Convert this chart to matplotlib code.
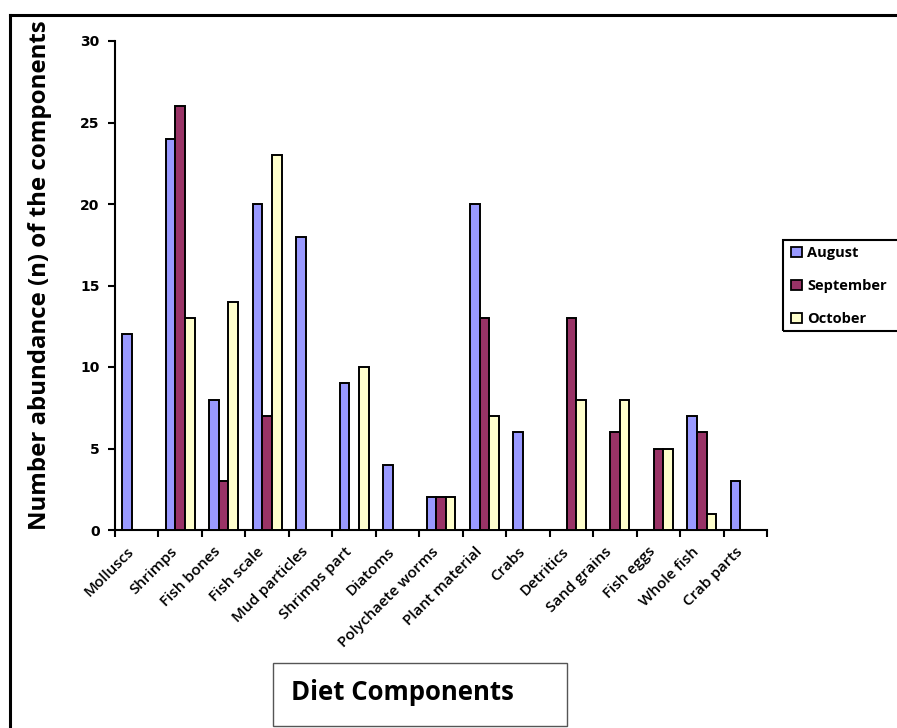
import matplotlib
matplotlib.use("Agg")
import matplotlib.pyplot as plt
from matplotlib.patches import Rectangle
from matplotlib.lines import Line2D
from matplotlib.transforms import ScaledTranslation
import numpy as np

components = [
    "Molluscs", "Shrimps", "Fish bones", "Fish scale", "Mud particles",
    "Shrimps part", "Diatoms", "Polychaete worms", "Plant material", "Crabs",
    "Detritics", "Sand grains", "Fish eggs", "Whole fish", "Crab parts",
]
august = [12, 24, 8, 20, 18, 9, 4, 2, 20, 6, 0, 0, 0, 7, 3]
september = [0, 26, 3, 7, 0, 0, 0, 2, 13, 0, 13, 6, 5, 6, 0]
october = [0, 13, 14, 23, 0, 10, 0, 2, 7, 0, 8, 8, 5, 1, 0]
months = ["August", "September", "October"]
colors = ["#9999FF", "#993366", "#FFFFCC"]

W, H = 897, 728
fig = plt.figure(figsize=(W / 100, H / 100), dpi=100)

# axes box in pixel terms: x 115..767, y 41..530
ax = fig.add_axes([115 / W, 1 - 530 / H, 652 / W, 489 / H])

x = np.arange(len(components))
bw = 1 / 4.5
for i, (vals, c, lab) in enumerate(zip([august, september, october], colors, months)):
    ax.bar(x + (i - 1) * bw, vals, bw, color=c, edgecolor="black",
           linewidth=1.4, label=lab, zorder=3)

ax.set_xlim(-0.5, len(components) - 0.5)
ax.set_ylim(0, 30)
ax.set_yticks(range(0, 31, 5))
for s in ["top", "right"]:
    ax.spines[s].set_visible(False)
for s in ["left", "bottom"]:
    ax.spines[s].set_linewidth(1.5)

ax.tick_params(axis="y", direction="out", length=5, width=1.5, pad=6)
for t in ax.get_yticklabels():
    t.set_fontfamily("DejaVu Sans")
    t.set_fontweight("bold")
    t.set_fontsize(10)

# category labels at the centres, tick marks at the boundaries
ax.set_xticks(x)
ax.set_xticklabels(components, rotation=45, ha="right", rotation_mode="anchor",
                   fontsize=11, family="Open Sans", fontweight="semibold")
ax.tick_params(axis="x", which="major", length=0, pad=9)
shift = ScaledTranslation(-0.10, -0.02, fig.dpi_scale_trans)
for t in ax.get_xticklabels():
    t.set_transform(t.get_transform() + shift)
ax.set_xticks(np.arange(-0.5, len(components) + 0.5, 1), minor=True)
ax.tick_params(axis="x", which="minor", direction="out", length=5, width=1.5)

fig.text(40 / W, 1 - 275 / H, "Number abundance (n) of the components",
         rotation=90, ha="center", va="center", fontsize=17.3,
         fontweight="bold", family="Open Sans")

# x-axis title in its own box
fig.patches.append(Rectangle((273 / W, 1 - 726 / H), 294 / W, 63 / H,
                             transform=fig.transFigure, fill=False,
                             edgecolor="#555555", linewidth=1))
fig.text(291 / W, 1 - 692 / H, "Diet Components", ha="left", va="center",
         fontsize=18.5, fontweight="bold", family="Open Sans")

# legend with a frame running off the right edge
fig.patches.append(Rectangle((783 / W, 1 - 331 / H), 130 / W, 91 / H,
                             transform=fig.transFigure, fill=False,
                             edgecolor="black", linewidth=1.5))
handles = [Rectangle((0, 0), 1, 1, facecolor=c, edgecolor="black", linewidth=1.3)
           for c in colors]
fig.legend(handles, months, loc="upper left",
           bbox_to_anchor=(787 / W, 1 - 242 / H), frameon=False,
           prop={"family": "Open Sans", "weight": "bold", "size": 10.5},
           handlelength=0.7, handleheight=0.7, handletextpad=0.4,
           labelspacing=1.3, borderaxespad=0, borderpad=0.3)

# outer frame (top and left sides only)
fig.add_artist(Line2D([10 / W, 1], [1 - 15 / H, 1 - 15 / H],
                      transform=fig.transFigure, color="black", linewidth=2.2))
fig.add_artist(Line2D([10 / W, 10 / W], [0, 1 - 15 / H],
                      transform=fig.transFigure, color="black", linewidth=2.2))

fig.savefig("out.png", dpi=100)
